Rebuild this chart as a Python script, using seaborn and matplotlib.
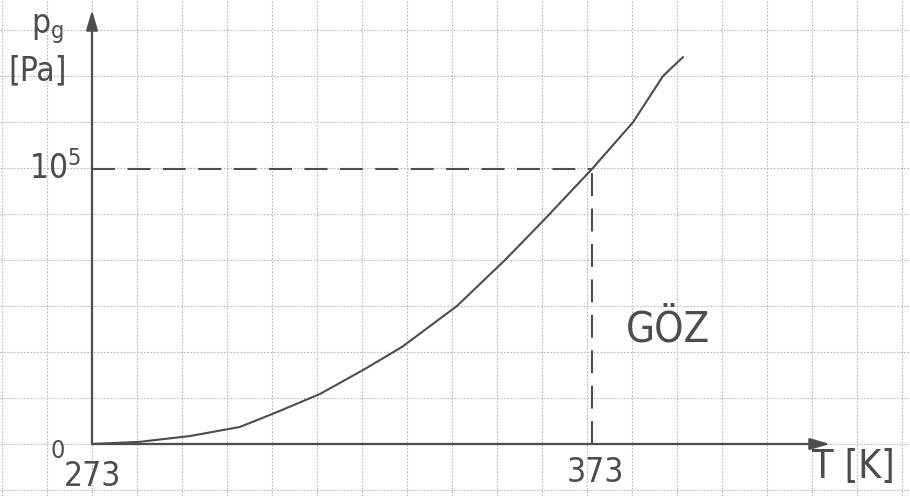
import numpy as np
import matplotlib
matplotlib.use("Agg")
import matplotlib.pyplot as plt
import seaborn as sns

# curve: temperature [K] vs pressure [Pa]
temperature = [273, 282.6, 292.6, 302.6, 310, 318.6, 327.6, 335, 346, 355.6, 363.2, 373, 381.2, 387.2, 391.2]
pressure = [0, 800, 2900, 6200, 11600, 18200, 27300, 35300, 50200, 66900, 81100, 100000, 117000, 133800, 140700]

boiling_T = 373
boiling_p = 1e5
x_labels = ["273", "373"]

ink = "#4d4d4d"

sns.set_style("white")
plt.rcParams["font.family"] = ["DejaVu Sans"]
plt.rcParams["font.stretch"] = "condensed"
plt.rcParams["mathtext.fontset"] = "custom"
plt.rcParams["mathtext.rm"] = "DejaVu Sans:stretch=condensed"
plt.rcParams["mathtext.it"] = "DejaVu Sans:stretch=condensed"

fig = plt.figure(figsize=(9.1, 4.96), dpi=100)
ax = fig.add_axes([0, 0, 1, 1])

# graph paper grid
ax.set_xticks(273 + 9 * np.arange(-3, 20))
ax.set_yticks(1e5 * 46 / 275 * np.arange(-2, 11))
ax.grid(True, color="#b8b8b8", linestyle=(0, (1.5, 1.5)), linewidth=0.8)
ax.tick_params(length=0, labelbottom=False, labelleft=False)
for s in ax.spines.values():
    s.set_visible(False)

# vapour pressure curve
sns.lineplot(x=temperature, y=pressure, ax=ax, color=ink, linewidth=1.5)

# dashed helper lines to 373 K / 1e5 Pa
ax.plot([273, boiling_T], [boiling_p, boiling_p], color=ink, lw=1.5, dashes=(11, 6))
ax.plot([boiling_T, boiling_T], [0, boiling_p], color=ink, lw=1.5, dashes=(11, 6))

# axes with arrows
arrow = dict(arrowstyle="-|>,head_length=1.2,head_width=0.35", color=ink, lw=1.6, shrinkA=0, shrinkB=0)
ax.annotate("", xy=(273 + 738 / 5, 0), xytext=(273, 0), arrowprops=arrow)
ax.annotate("", xy=(273, (434 / 275) * 1e5), xytext=(273, 0), arrowprops=arrow)

# hand-written labels
ax.text(273.1, -12000, x_labels[0], ha="center", va="center", fontsize=24, color=ink)
ax.text(boiling_T + 0.6, -10500, x_labels[1], ha="center", va="center", fontsize=24, color=ink)
ax.text(266.2, -2500, "0", ha="center", va="center", fontsize=18, color=ink)
ax.text(417, -8400, "T [K]", ha="left", va="center", fontsize=28, color=ink)
ax.text(265.6, boiling_p, r"10$^{5}$", ha="center", va="center", fontsize=24, color=ink)
ax.text(264, 151000, r"p$_{g}$", ha="center", va="center", fontsize=24, color=ink)
ax.text(262.2, 135600, "[Pa]", ha="center", va="center", fontsize=24, color=ink)
ax.text(273 + 576 / 5, (444 - 330) / 275 * 1e5, "GÖZ", ha="center", va="center", fontsize=30, color=ink)

# pixel mapping: 5 px per K, 275 px per 1e5 Pa, origin at (92, 444)
ax.set_xlim(273 - 92 / 5, 273 + 818 / 5)
ax.set_ylim(-(52 / 275) * 1e5, (444 / 275) * 1e5)

fig.savefig("out.png", dpi=100, facecolor="white")
plt.close(fig)
